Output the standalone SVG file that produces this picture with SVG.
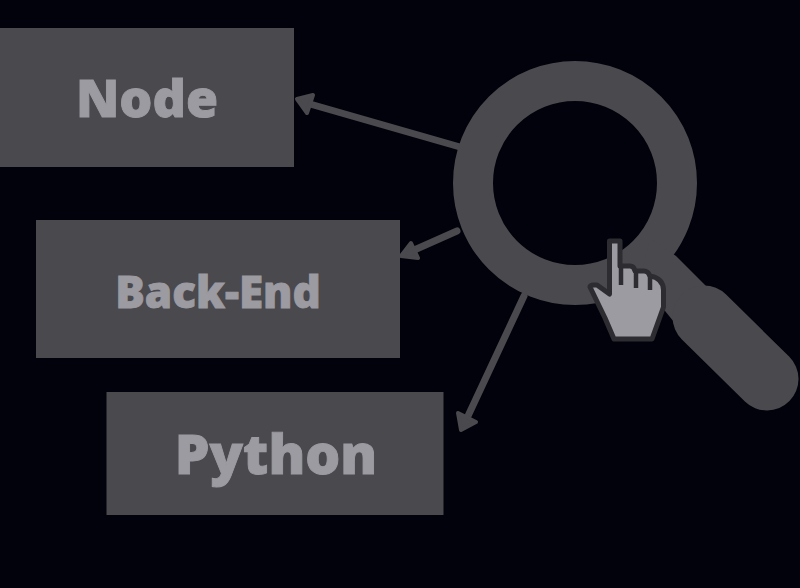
<svg xmlns="http://www.w3.org/2000/svg" width="800" height="588" viewBox="0 0 800 588">
<style>
.box{fill:#4a494e}
.lbl{font-family:"Open Sans","Noto Sans",sans-serif;font-weight:800;fill:#9c9ba2;text-anchor:middle;stroke:#9c9ba2;stroke-width:.9}
.conn{stroke:#4a494e;stroke-width:7;stroke-linecap:round;fill:none}
.head{fill:#4a494e;stroke:#4a494e;stroke-width:4;stroke-linejoin:round}
</style>
<rect width="800" height="588" fill="#02020c"/>
<g id="connectors">
<path class="conn" d="M310 104L460 147"/>
<path class="head" d="M297 99L313 95L307 113Z"/>
<path class="conn" d="M412 251L457 231"/>
<path class="head" d="M401 256L411 243L418 258Z"/>
<path class="conn" d="M524 296L468 416"/>
<path class="head" d="M461 430L458 413L476 422Z"/>
</g>
<g id="node-node"><rect class="box" x="-2" y="28" width="296" height="139"/><text class="lbl" x="147" y="117" font-size="52">Node</text></g>
<g id="node-backend"><rect class="box" x="36" y="220" width="364" height="138"/><text class="lbl" x="218" y="307.500" font-size="44">Back-End</text></g>
<g id="node-python"><rect class="box" x="106.500" y="392" width="337" height="123"/><text class="lbl" x="276" y="474" font-size="55">Python</text></g>
<g id="magnifier">
<circle cx="575" cy="183" r="102" fill="none" stroke="#4a494e" stroke-width="40"/>
<path d="M650 238L676 256L708 288L674 322L640 280Z" fill="#4a494e"/>
<path d="M704 317L767 379" stroke="#4a494e" stroke-width="63" stroke-linecap="round" fill="none"/>
</g>
<g id="cursor">
<path d="M609.500 241H620V266H630Q634 266 635 271H644Q648 271 650 276Q663 278 663.500 290V307L652 339H614L605 318L590 287Q590 285 594 285L597 285L609.500 294Z" fill="#9c9ba2" stroke="#2c2c31" stroke-width="5" stroke-linejoin="round"/>
<path d="M621 266V285M636 271V288M650 276V290" stroke="#2c2c31" stroke-width="4.500" fill="none"/>
</g>
</svg>
